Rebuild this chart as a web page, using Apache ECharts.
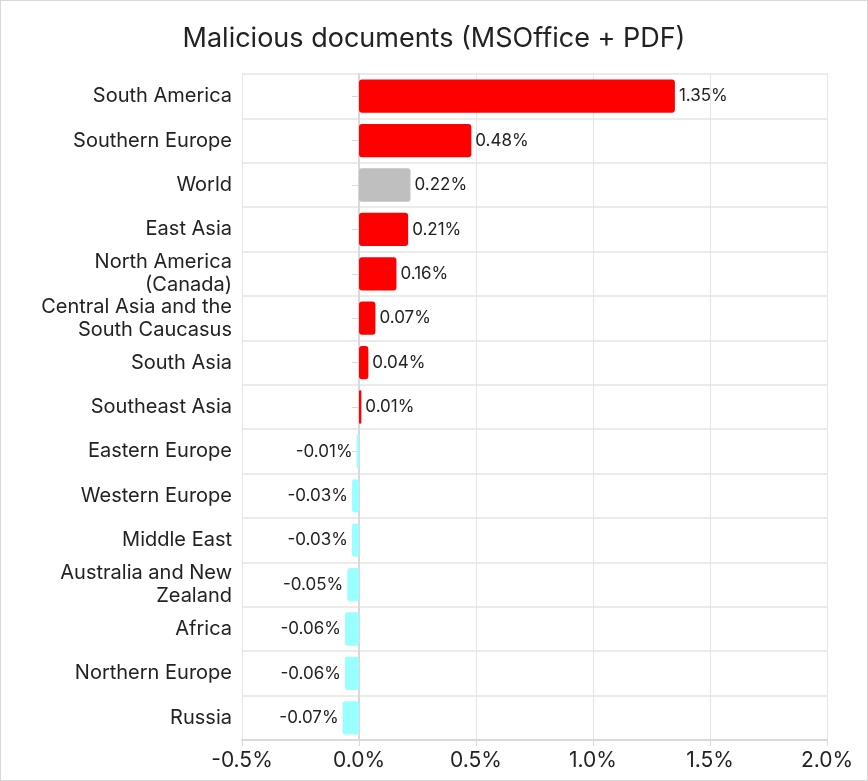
<!DOCTYPE html>
<html>
<head>
    <title>Malicious documents</title>
    <script src="https://cdn.jsdelivr.net/npm/echarts@6/dist/echarts.min.js"></script>
    <style>
        html, body { margin: 0; padding: 0; background: #fff; }
        #chart { width: 866px; height: 779px; border: 1px solid #d9d9d9; }
    </style>
</head>
<body>
<div id="chart"></div>
<script>
    // regions, top to bottom
    var regions = [
        'South America', 'Southern Europe', 'World', 'East Asia',
        'North America\n(Canada)', 'Central Asia and the\nSouth Caucasus',
        'South Asia', 'Southeast Asia', 'Eastern Europe', 'Western Europe',
        'Middle East', 'Australia and New\nZealand', 'Africa',
        'Northern Europe', 'Russia'
    ];
    // change, in percent
    var changes = [1.35, 0.48, 0.22, 0.21, 0.16, 0.07, 0.04, 0.01,
        -0.01, -0.03, -0.03, -0.05, -0.06, -0.06, -0.07];
    var xTicks = [-0.5, 0, 0.5, 1.0, 1.5, 2.0];

    var font = 'Inter, "Noto Sans", sans-serif';

    function barColor(name, v) {
        if (name === 'World') return '#bfbfbf';
        return v < 0 ? '#99ffff' : '#ff0000';
    }

    var chart = echarts.init(document.getElementById('chart'));

    var option = {
        title: {
            text: 'Malicious documents (MSOffice + PDF)',
            left: 'center',
            top: 9,
            textStyle: { fontFamily: font, fontSize: 27, fontWeight: 'normal', color: '#222' }
        },
        grid: { left: 241, right: 40, top: 73, bottom: 40, outerBoundsMode: 'none' },
        xAxis: {
            type: 'value',
            min: xTicks[0],
            max: xTicks[xTicks.length - 1],
            interval: 0.5,
            axisLine: { show: true, lineStyle: { color: '#d9d9d9', width: 2 } },
            axisTick: { show: true, length: 6, lineStyle: { color: '#d9d9d9' } },
            axisLabel: {
                fontFamily: font, fontSize: 21, color: '#222', margin: 2,
                formatter: function (v) { return v.toFixed(1) + '%'; }
            },
            splitLine: { lineStyle: { color: '#e6e6e6' } }
        },
        yAxis: {
            type: 'category',
            inverse: true,
            data: regions,
            axisLine: { show: true, lineStyle: { color: '#d9d9d9', width: 2 } },
            axisTick: { show: true, length: 7, interval: 0, alignWithLabel: true, lineStyle: { color: '#d9d9d9' } },
            axisLabel: {
                interval: 0,
                fontFamily: font, fontSize: 20, color: '#222', margin: 10, lineHeight: 23
            },
            splitLine: { show: true, interval: 0, lineStyle: { color: '#ebebeb', width: 2 } }
        },
        series: [{
            type: 'bar',
            barWidth: '75%',
            data: changes.map(function (v, i) {
                return {
                    value: v,
                    itemStyle: { color: barColor(regions[i], v), borderRadius: 3 },
                    label: { position: v < 0 ? 'left' : 'right' }
                };
            }),
            label: {
                show: true,
                distance: 4,
                fontFamily: font,
                fontSize: 17,
                color: '#222',
                formatter: function (p) { return p.value.toFixed(2) + '%'; }
            }
        }]
    };

    chart.setOption(option);
</script>
</body>
</html>
